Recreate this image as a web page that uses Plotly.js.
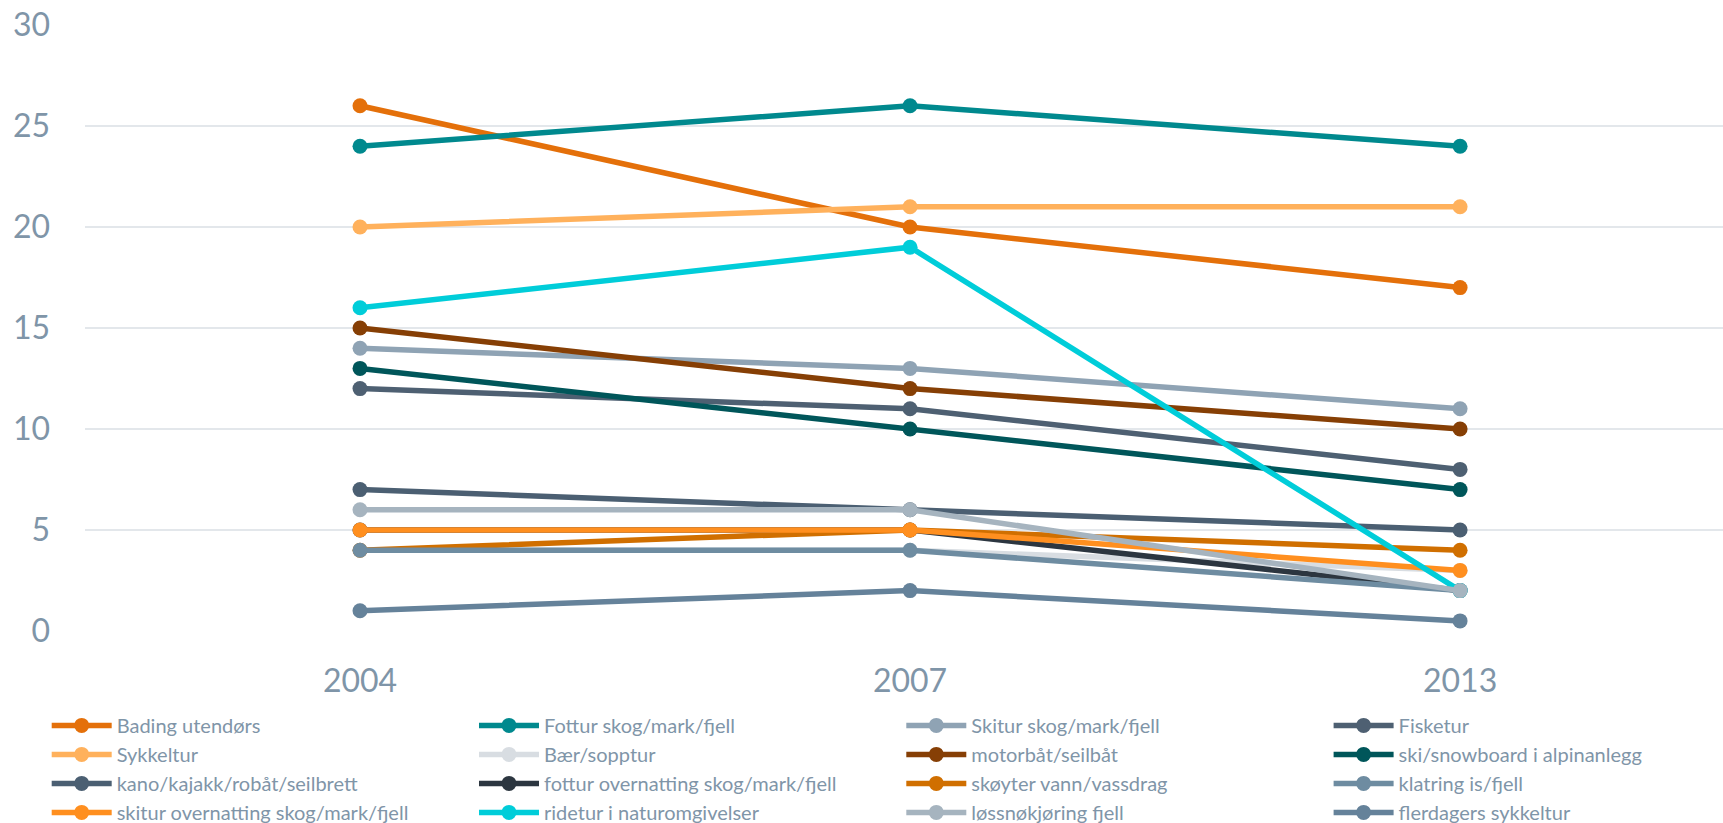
<!DOCTYPE html>
<html>
<head>
<meta charset="utf-8">
<script src="https://cdn.plot.ly/plotly-3.0.1.min.js"></script>
<style>html,body{margin:0;padding:0;background:#fff;}#chart{width:1723px;height:823px;}</style>
</head>
<body>
<div id="chart"></div>
<script>
const years = ["2004", "2007", "2013"];

const seriesNames = [
  "Bading utendørs", "Fottur skog/mark/fjell", "Skitur skog/mark/fjell", "Fisketur",
  "Sykkeltur", "Bær/sopptur", "motorbåt/seilbåt", "ski/snowboard i alpinanlegg",
  "kano/kajakk/robåt/seilbrett", "fottur overnatting skog/mark/fjell", "skøyter vann/vassdrag", "klatring is/fjell",
  "skitur overnatting skog/mark/fjell", "ridetur i naturomgivelser", "løssnøkjøring fjell", "flerdagers sykkeltur"
];

const badingUtendors      = [26, 20, 17];
const fotturSkog          = [24, 26, 24];
const skiturSkog          = [14, 13, 11];
const fisketur            = [12, 11, 8];
const sykkeltur           = [20, 21, 21];
const baerSopptur         = [4, 4, 3];
const motorbat            = [15, 12, 10];
const skiSnowboard        = [13, 10, 7];
const kanoKajakk          = [7, 6, 5];
const fotturOvernatting   = [5, 5, 2];
const skoyter             = [4, 5, 4];
const klatring            = [4, 4, 2];
const skiturOvernatting   = [5, 5, 3];
const ridetur             = [16, 19, 2];
const lossnokjoring       = [6, 6, 2];
const flerdagersSykkeltur = [1, 2, 0.5];

const seriesValues = [
  badingUtendors, fotturSkog, skiturSkog, fisketur,
  sykkeltur, baerSopptur, motorbat, skiSnowboard,
  kanoKajakk, fotturOvernatting, skoyter, klatring,
  skiturOvernatting, ridetur, lossnokjoring, flerdagersSykkeltur
];

const seriesColors = [
  "#E4700A", "#00898E", "#8FA3B4", "#4E6072",
  "#FFB15C", "#D8DDE2", "#863F05", "#00565A",
  "#4B5F72", "#2C3640", "#D06F00", "#6E8CA1",
  "#FF8F1F", "#00CDD9", "#A6B4BF", "#65829A"
];

const yTicks = [0, 5, 10, 15, 20, 25, 30];

const legendIds = ["legend", "legend2", "legend3", "legend4"];

const traces = seriesNames.map((name, i) => ({
  type: "scatter",
  mode: "lines+markers",
  name: name,
  x: years,
  y: seriesValues[i],
  line: { color: seriesColors[i], width: 5.5 },
  marker: { color: seriesColors[i], size: 15 },
  legend: legendIds[i % 4],
  cliponaxis: false
}));

const axisColor = "#7F95A8";

function legendAt(xPos) {
  return {
    orientation: "v",
    xref: "container",
    yref: "container",
    x: xPos,
    xanchor: "left",
    y: 0.1423,
    yanchor: "top",
    tracegroupgap: 0,
    itemwidth: 60,
    font: { size: 20, color: axisColor },
    bgcolor: "rgba(0,0,0,0)",
    traceorder: "normal"
  };
}

const layout = {
  width: 1723,
  height: 823,
  margin: { l: 85, r: 0, t: 25, b: 192, autoexpand: false },
  paper_bgcolor: "#ffffff",
  plot_bgcolor: "#ffffff",
  font: { family: "Lato, 'Open Sans', sans-serif", color: axisColor },
  showlegend: true,
  xaxis: {
    type: "category",
    range: [-0.5, 2.478],
    showgrid: false,
    zeroline: false,
    showline: false,
    ticks: "",
    tickangle: 0,
    tickfont: { size: 32, color: axisColor },
    ticklabelstandoff: 28,
    fixedrange: true
  },
  yaxis: {
    range: [0, 30],
    tickvals: yTicks,
    ticktext: yTicks.map(String),
    showgrid: true,
    gridcolor: "#E3E7EB",
    gridwidth: 1.5,
    zeroline: false,
    showline: false,
    ticks: "",
    tickfont: { size: 32, color: axisColor },
    ticklabelstandoff: 34,
    fixedrange: true
  },
  legend: legendAt(0.0271),
  legend2: legendAt(0.2751),
  legend3: legendAt(0.5231),
  legend4: legendAt(0.7711)
};

Plotly.newPlot("chart", traces, layout, { displayModeBar: false, staticPlot: true });
</script>
</body>
</html>
